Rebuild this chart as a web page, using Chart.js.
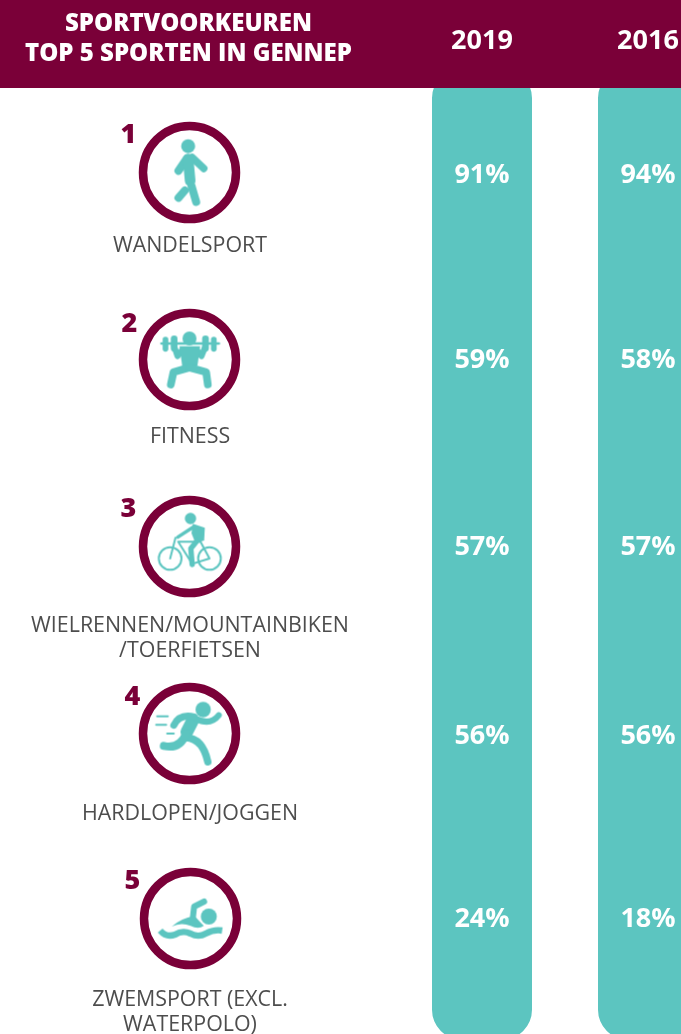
<!DOCTYPE html>
<html lang="nl">
<head>
<meta charset="utf-8">
<title>Sportvoorkeuren Gennep</title>
<script src="https://cdn.jsdelivr.net/npm/chart.js@4"></script>
<style>
  html, body { margin: 0; padding: 0; background: #fff; }
  canvas { display: block; }
</style>
</head>
<body>
<canvas id="sport-chart-id" width="681" height="1034"></canvas>
<script>
const titleLines = ['SPORTVOORKEUREN', 'TOP 5 SPORTEN IN GENNEP'];
const years = ['2019', '2016'];
const ranks = [1, 2, 3, 4, 5];
const sports = [
  ['WANDELSPORT'],
  ['FITNESS'],
  ['WIELRENNEN/MOUNTAINBIKEN', '/TOERFIETSEN'],
  ['HARDLOPEN/JOGGEN'],
  ['ZWEMSPORT (EXCL.', 'WATERPOLO)']
];
const values2019 = [91, 59, 57, 56, 24];
const values2016 = [94, 58, 57, 56, 18];

const MAROON = '#7a0038';
const TEAL = '#5cc5c0';
const FONT = '"Open Sans"';

// x scale runs in page pixels, y scale runs in ranks
const ICON_X = 189.5;
const COLUMN_X = [482, 648];
const COLUMN_SPAN = [0.44, 5.65];

// the rows in the original are not perfectly even, pixel nudges per row
const VALUE_DY = [2, 0, 1, 3, 0];
const LABEL_DY = [73, 78, 80, 82, 81];
const NUMBER_DX = [-61, -60, -61, -57, -57];
const NUMBER_DY = [-37, -35, -36, -35, -37];
const RING_DX = [0, 0, 0, 0, 1];
const RING_DY = [0, 0.5, 1, 1.5, 0];

// ===================== ICONS =====================
// drawn at 3x around the middle of the ring, used as point styles
function makeIcon(draw) {
  const size = 92;
  const c = document.createElement('canvas');
  c.width = size;
  c.height = size;
  const g = c.getContext('2d');
  g.translate(size / 2, size / 2);
  g.scale(1 / 3, 1 / 3);
  g.fillStyle = TEAL;
  g.strokeStyle = TEAL;
  g.lineCap = 'round';
  g.lineJoin = 'round';
  draw(g);
  return c;
}
function dot(g, x, y, r) {
  g.beginPath();
  g.arc(x, y, r, 0, Math.PI * 2);
  g.fill();
}
function line(g, w, pts) {
  g.lineWidth = w;
  g.beginPath();
  pts.forEach((p, i) => (i ? g.lineTo(p[0], p[1]) : g.moveTo(p[0], p[1])));
  g.stroke();
}
function curve(g, w, a, b, c) {
  g.lineWidth = w;
  g.beginPath();
  g.moveTo(a[0], a[1]);
  g.quadraticCurveTo(b[0], b[1], c[0], c[1]);
  g.stroke();
}
function shape(g, pts) {
  g.beginPath();
  pts.forEach((p, i) => (i ? g.lineTo(p[0], p[1]) : g.moveTo(p[0], p[1])));
  g.closePath();
  g.fill();
}

const walkIcon = makeIcon(g => {
  dot(g, -4, -79, 21);
  line(g, 24, [[-8, -42], [-33, -5]]);
  line(g, 22, [[8, -45], [43, -12]]);
  line(g, 32, [[-4, -40], [2, 25]]);
  line(g, 24, [[6, 40], [20, 88]]);
  line(g, 24, [[-14, 54], [-33, 76]]);
});
const liftIcon = makeIcon(g => {
  dot(g, 0, -63, 21);
  // barbell
  line(g, 8, [[-84, -48], [88, -48]]);
  line(g, 17, [[-72, -60], [-72, -32]]);
  line(g, 20, [[-46, -62], [-46, -34]]);
  line(g, 20, [[48, -62], [48, -34]]);
  line(g, 17, [[73, -60], [73, -32]]);
  // arms and trunk
  line(g, 18, [[-46, -40], [-36, -10], [-22, -28]]);
  line(g, 18, [[48, -40], [36, -10], [22, -28]]);
  shape(g, [[-30, -40], [32, -40], [24, 18], [-22, 18]]);
  // legs
  line(g, 23, [[0, 24], [-48, 38], [-56, 75]]);
  line(g, 23, [[0, 24], [50, 38], [55, 75]]);
});
const bikeIcon = makeIcon(g => {
  dot(g, 3, -84, 17);
  shape(g, [[10, -68], [46, -56], [44, -18], [18, -10], [6, -40]]);
  line(g, 10, [[14, -60], [-35, -28]]);
  line(g, 16, [[22, -16], [4, 6], [8, 54]]);
  g.lineWidth = 6;
  g.beginPath();
  g.arc(-58, 36, 34, 0, Math.PI * 2);
  g.stroke();
  g.beginPath();
  g.arc(60, 36, 34, 0, Math.PI * 2);
  g.stroke();
  line(g, 6, [[-42, -26], [-58, 36]]);
  line(g, 6, [[-34, -14], [8, 52], [60, 36], [33, -14], [-34, -14]]);
});
const runIcon = makeIcon(g => {
  dot(g, 41, -72, 23);
  line(g, 38, [[10, -40], [-8, -5]]);
  curve(g, 18, [18, -45], [62, -22], [88, -55]);
  curve(g, 21, [14, -50], [-30, -60], [-47, -25]);
  curve(g, 22, [-10, 12], [40, 15], [55, 85]);
  curve(g, 24, [-10, 0], [-28, 48], [-77, 37]);
  line(g, 6, [[-97, -52], [-65, -52]]);
  line(g, 6, [[-100, -26], [-70, -26]]);
  line(g, 6, [[-67, 0], [-47, 0]]);
});
const swimIcon = makeIcon(g => {
  dot(g, 55, -6, 24);
  line(g, 18, [[41, -51], [11, -36], [7, -2]]);
  g.beginPath();
  g.moveTo(-56, 24);
  g.quadraticCurveTo(-30, 0, 12, -8);
  g.quadraticCurveTo(28, 10, 40, 22);
  g.quadraticCurveTo(24, 34, 0, 22);
  g.quadraticCurveTo(-28, 10, -56, 24);
  g.fill();
  g.lineCap = 'butt';
  g.lineWidth = 19;
  g.beginPath();
  g.moveTo(-91, 36);
  g.quadraticCurveTo(-72, 58, -46, 48);
  g.quadraticCurveTo(-24, 34, 0, 45);
  g.quadraticCurveTo(24, 58, 46, 45);
  g.quadraticCurveTo(70, 32, 95, 36);
  g.stroke();
});
const iconStyles = [walkIcon, liftIcon, bikeIcon, runIcon, swimIcon];

// ===================== HEADER AND TEXT =====================
const tablePlugin = {
  id: 'tableText',
  afterDatasetsDraw(chart) {
    const ctx = chart.ctx;
    const yScale = chart.scales.y;
    ctx.save();
    ctx.fillStyle = MAROON;
    ctx.fillRect(0, 0, chart.width, 88);

    ctx.textAlign = 'center';
    ctx.textBaseline = 'middle';
    ctx.fillStyle = '#fff';
    ctx.font = '800 24px ' + FONT;
    titleLines.forEach((t, i) => ctx.fillText(t, ICON_X - 1, 24 + i * 30));
    ctx.font = '700 27px ' + FONT;
    years.forEach((t, i) => ctx.fillText(t, COLUMN_X[i], 41));

    [values2019, values2016].forEach((vals, c) => {
      vals.forEach((v, i) => {
        const y = yScale.getPixelForValue(ranks[i]) + 1 + VALUE_DY[i];
        ctx.fillText(v + '%', COLUMN_X[c], y);
      });
    });

    ranks.forEach((r, i) => {
      const y = yScale.getPixelForValue(r);
      ctx.fillStyle = MAROON;
      ctx.font = '800 27px ' + FONT;
      ctx.fillText(String(r), ICON_X + NUMBER_DX[i], y + NUMBER_DY[i]);
      ctx.fillStyle = '#4d4d4d';
      ctx.font = '400 21.4px ' + FONT;
      sports[i].forEach((t, k) => ctx.fillText(t, ICON_X + 0.5, y + LABEL_DY[i] + k * 25));
    });
    ctx.restore();
  }
};

// rank position on the y scale, nudged by a fraction of a row
const ringPoints = ranks.map((r, i) => ({ x: ICON_X + RING_DX[i], y: r + RING_DY[i] / 186.5 }));

new Chart(document.getElementById('sport-chart-id'), {
  type: 'bar',
  data: {
    datasets: [
      // icons on top of the rings
      {
        type: 'scatter',
        label: 'Icons',
        data: ringPoints,
        pointStyle: iconStyles,
        pointRadius: 46,
        order: 1
      },
      {
        type: 'scatter',
        label: 'Rings',
        data: ringPoints,
        pointRadius: 46.5,
        pointBorderWidth: 8.5,
        pointBorderColor: MAROON,
        pointBackgroundColor: '#fff',
        order: 2
      },
      {
        label: years[0],
        data: [{ x: COLUMN_X[0], y: COLUMN_SPAN }],
        backgroundColor: TEAL,
        order: 3
      },
      {
        label: years[1],
        data: [{ x: COLUMN_X[1], y: COLUMN_SPAN }],
        backgroundColor: TEAL,
        order: 3
      }
    ]
  },
  options: {
    responsive: false,
    animation: false,
    layout: { padding: 0, autoPadding: false },
    datasets: {
      bar: {
        barThickness: 100,
        grouped: false,
        borderRadius: 30,
        borderSkipped: false,
        inflateAmount: 0
      }
    },
    plugins: {
      legend: { display: false },
      title: { display: false },
      tooltip: { enabled: false }
    },
    scales: {
      x: { type: 'linear', display: false, offset: false, min: 0, max: 681 },
      y: { type: 'linear', display: false, reverse: true, min: 0.07507, max: 5.6193 }
    }
  },
  plugins: [tablePlugin]
});
</script>
</body>
</html>
